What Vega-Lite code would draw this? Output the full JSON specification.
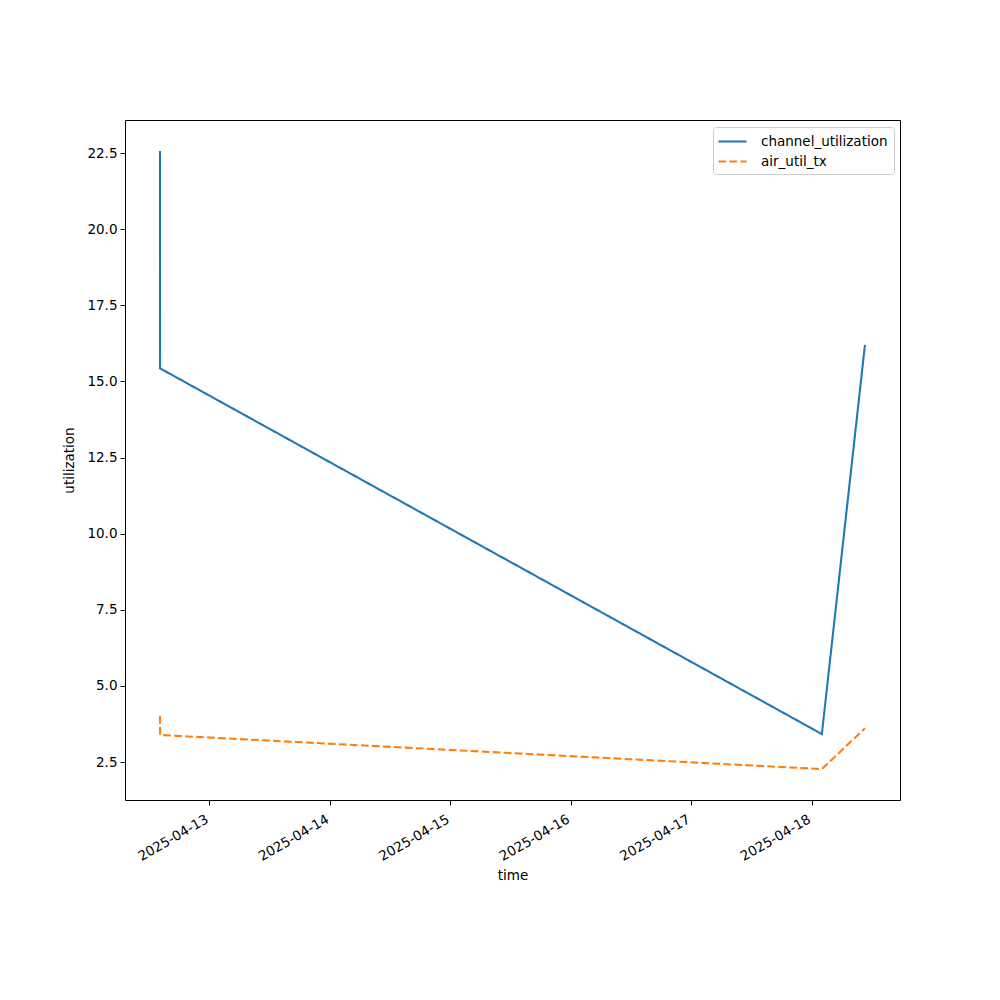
{
  "$schema": "https://vega.github.io/schema/vega-lite/v6.json",
  "width": 775,
  "height": 680,
  "autosize": {"type": "none"},
  "padding": {"left": 125, "top": 120, "right": 100, "bottom": 200},
  "background": "white",
  "config": {
    "font": "DejaVu Sans",
    "view": {"stroke": "black", "strokeWidth": 1},
    "axis": {
      "grid": false,
      "domain": false,
      "tickColor": "black",
      "tickSize": 5,
      "labelColor": "black",
      "titleColor": "black",
      "labelFontSize": 13.5,
      "titleFontSize": 13.5,
      "titleFontWeight": "normal",
      "labelFont": "DejaVu Sans",
      "titleFont": "DejaVu Sans"
    }
  },
  "data": {
    "values": [
      {"time": "2025-04-12T14:10:00", "series": "channel_utilization", "value": 22.57},
      {"time": "2025-04-12T14:11:00", "series": "channel_utilization", "value": 15.43},
      {"time": "2025-04-18T02:00:00", "series": "channel_utilization", "value": 3.42},
      {"time": "2025-04-18T10:35:00", "series": "channel_utilization", "value": 16.2},
      {"time": "2025-04-12T14:10:00", "series": "air_util_tx", "value": 4.01},
      {"time": "2025-04-12T14:11:00", "series": "air_util_tx", "value": 3.39},
      {"time": "2025-04-18T02:00:00", "series": "air_util_tx", "value": 2.27},
      {"time": "2025-04-18T10:35:00", "series": "air_util_tx", "value": 3.61}
    ]
  },
  "mark": {"type": "line", "strokeWidth": 2.08, "clip": true},
  "encoding": {
    "x": {
      "field": "time",
      "type": "temporal",
      "title": "time",
      "scale": {
        "domain": [
          {"year": 2025, "month": 4, "date": 12, "hours": 7, "minutes": 12},
          {"year": 2025, "month": 4, "date": 18, "hours": 17, "minutes": 34}
        ]
      },
      "axis": {
        "tickCount": {"interval": "day", "step": 1},
        "format": "%Y-%m-%d",
        "labelAngle": -30,
        "labelAlign": "right",
        "labelBaseline": "top",
        "labelPadding": 7,
        "labelOffset": -6,
        "titlePadding": 6,
        "labelOverlap": false,
        "labelFlush": false
      }
    },
    "y": {
      "field": "value",
      "type": "quantitative",
      "title": "utilization",
      "scale": {"domain": [1.255, 23.585], "nice": false, "zero": false},
      "axis": {
        "values": [2.5, 5, 7.5, 10, 12.5, 15, 17.5, 20, 22.5],
        "format": ".1f",
        "labelPadding": 3,
        "titlePadding": 10
      }
    },
    "color": {
      "field": "series",
      "type": "nominal",
      "title": null,
      "sort": ["channel_utilization", "air_util_tx"],
      "scale": {"domain": ["channel_utilization", "air_util_tx"], "range": ["#1f77b4", "#ff7f0e"]},
      "legend": {
        "orient": "none",
        "legendX": 588,
        "legendY": 7,
        "symbolType": "M-2,0H2",
        "symbolSize": 196,
        "symbolStrokeWidth": 2.08,
        "symbolOffset": 5,
        "labelFontSize": 13.5,
        "labelFont": "DejaVu Sans",
        "labelColor": "black",
        "strokeColor": "#cccccc",
        "fillColor": "white",
        "cornerRadius": 3,
        "padding": 6,
        "rowPadding": 5,
        "labelOffset": 20
      }
    },
    "strokeDash": {
      "field": "series",
      "type": "nominal",
      "title": null,
      "sort": ["channel_utilization", "air_util_tx"],
      "scale": {"domain": ["channel_utilization", "air_util_tx"], "range": [[1, 0], [7.7, 3.3]]}
    },
    "order": {"field": "time", "type": "temporal"}
  }
}
